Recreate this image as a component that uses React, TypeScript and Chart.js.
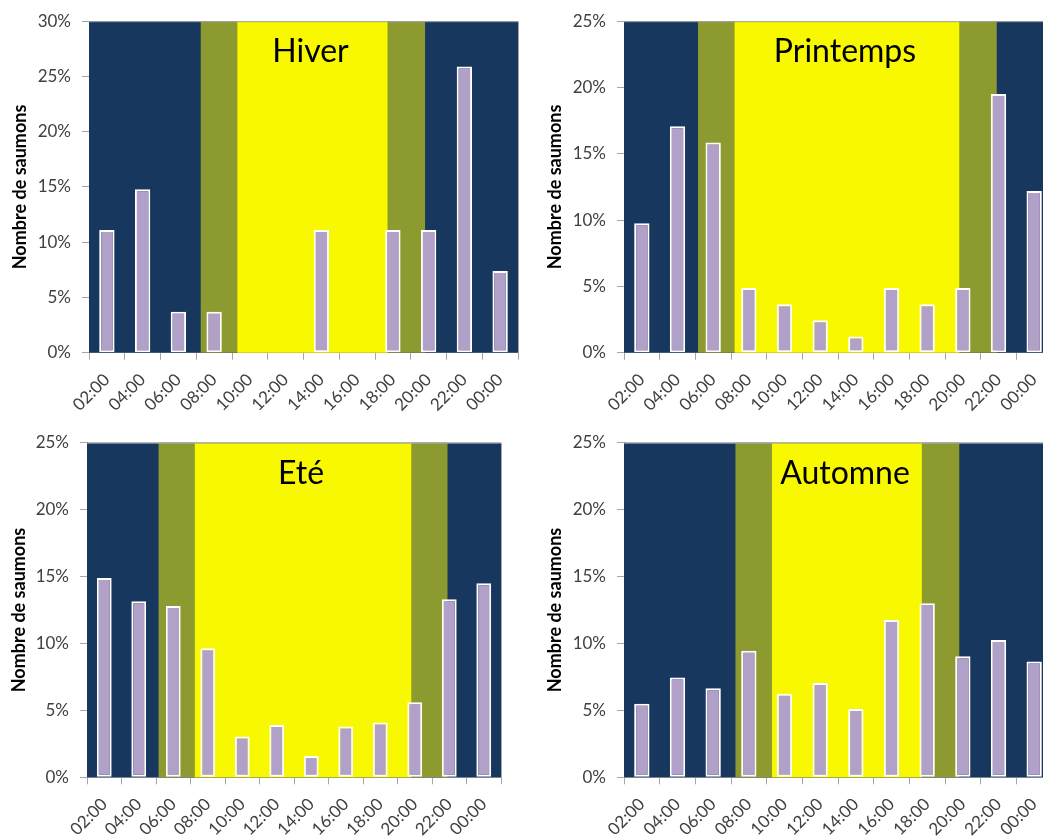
import React, { useEffect, useRef } from "react";
import { Chart, registerables } from "chart.js";

Chart.register(...registerables);

// ---------- data ----------
const hours: string[] = ["02:00", "04:00", "06:00", "08:00", "10:00", "12:00", "14:00", "16:00", "18:00", "20:00", "22:00", "00:00"];

const hiverValues: number[] = [11.1, 14.8, 3.7, 3.7, 0, 0, 11.1, 0, 11.1, 11.1, 25.9, 7.4];
const printempsValues: number[] = [9.76, 17.07, 15.85, 4.88, 3.66, 2.44, 1.22, 4.88, 3.66, 4.88, 19.51, 12.2];
const eteValues: number[] = [14.9, 13.15, 12.8, 9.65, 3.05, 3.9, 1.6, 3.8, 4.1, 5.6, 13.3, 14.5];
const automneValues: number[] = [5.5, 7.45, 6.65, 9.45, 6.25, 7.05, 5.1, 11.75, 13.0, 9.05, 10.25, 8.65];

// light phases in hours: [dawn start, sunrise, sunset, dusk end]
const hiverLight: number[] = [6.25, 8.3, 16.7, 18.8];
const printempsLight: number[] = [4.15, 6.2, 18.8, 20.9];
const eteLight: number[] = [4.15, 6.25, 18.8, 20.9];
const automneLight: number[] = [6.25, 8.3, 16.7, 18.8];

const yTicksPercent: number[] = [0, 5, 10, 15, 20, 25, 30];

const FONT = "Lato, 'Open Sans', sans-serif";
const NIGHT = "#17375E";
const TWILIGHT = "#8C9A30";
const DAY = "#F8F800";
const BAR = "#B1A0C7";
const AXIS = "#A6A6A6";
const TEXT = "#404040";

type PanelProps = {
  title: string;
  values: number[];
  light: number[];
  yMax: number;
  left: number;
  top: number;
  width: number;
  height: number;
  padTop: number;
  yWidth: number;
  xHeight: number;
  yTitlePad: number;
};

const Panel: React.FC<PanelProps> = (p) => {
  const ref = useRef<HTMLCanvasElement | null>(null);

  useEffect(() => {
    if (!ref.current) return;

    const bandPlugin = {
      id: "bands",
      beforeDatasetsDraw(chart: any) {
        const { ctx, chartArea } = chart;
        const xs = chart.scales.x;
        const hx = (h: number) => xs.getPixelForValue(h / 2 - 0.5);
        const { left, right, top, bottom } = chartArea;
        ctx.save();
        ctx.fillStyle = NIGHT;
        ctx.fillRect(left, top, right - left, bottom - top);
        const [d0, s0, s1, d1] = p.light;
        ctx.fillStyle = TWILIGHT;
        ctx.fillRect(hx(d0), top, hx(d1) - hx(d0), bottom - top);
        ctx.fillStyle = DAY;
        ctx.fillRect(hx(s0), top, hx(s1) - hx(s0), bottom - top);
        ctx.strokeStyle = AXIS;
        ctx.lineWidth = 1;
        ctx.beginPath();
        ctx.moveTo(left, top + 0.5);
        ctx.lineTo(right + 0.5, top + 0.5);
        ctx.lineTo(right + 0.5, bottom);
        ctx.stroke();
        ctx.restore();
      },
      afterDatasetsDraw(chart: any) {
        const { ctx, chartArea } = chart;
        ctx.save();
        ctx.fillStyle = "#000000";
        ctx.font = `32px ${FONT}`;
        ctx.textAlign = "center";
        ctx.textBaseline = "alphabetic";
        ctx.fillText(p.title, (chartArea.left + chartArea.right) / 2 + 7, chartArea.top + 41);
        ctx.restore();
      },
    };

    const chart = new Chart(ref.current, {
      type: "bar",
      data: {
        labels: hours,
        datasets: [
          {
            data: p.values,
            backgroundColor: BAR,
            borderColor: "#FFFFFF",
            borderWidth: 2,
            borderSkipped: false,
            barPercentage: 0.43,
            categoryPercentage: 1,
          },
        ],
      },
      options: {
        animation: false,
        responsive: false,
        layout: { padding: { top: p.padTop, right: 10, left: 0, bottom: 0 } },
        plugins: { legend: { display: false }, tooltip: { enabled: false } },
        scales: {
          x: {
            type: "category",
            offset: true,
            grid: { offset: true, drawOnChartArea: false, drawTicks: true, tickLength: 7, color: AXIS },
            border: { color: AXIS },
            ticks: {
              autoSkip: false,
              maxRotation: 45,
              minRotation: 45,
              padding: 10,
              color: TEXT,
              font: { family: FONT, size: 17 },
            },
            afterFit: (s: any) => {
              s.height = p.xHeight;
            },
          },
          y: {
            min: 0,
            max: p.yMax,
            afterBuildTicks: (s: any) => {
              s.ticks = yTicksPercent.filter((v) => v <= p.yMax).map((v) => ({ value: v }));
            },
            grid: { drawOnChartArea: false, drawTicks: true, tickLength: 7, color: AXIS },
            border: { color: AXIS },
            ticks: {
              padding: 11,
              color: TEXT,
              font: { family: FONT, size: 17 },
              callback: (v: any) => `${v}%`,
            },
            title: {
              display: true,
              text: "Nombre de saumons",
              color: "#000000",
              font: { family: FONT, size: 18, weight: "bold" },
              padding: { top: p.yTitlePad, bottom: 0 },
            },
            afterFit: (s: any) => {
              s.width = p.yWidth;
            },
          },
        },
      },
      plugins: [bandPlugin],
    });
    return () => chart.destroy();
  }, []);

  return (
    <div style={{ position: "absolute", left: p.left, top: p.top, width: p.width, height: p.height }}>
      <canvas ref={ref} width={p.width} height={p.height} style={{ width: p.width, height: p.height, display: "block" }} />
    </div>
  );
};

export default function App() {
  return (
    <div
      style={{
        position: "fixed",
        left: 0,
        top: 0,
        width: 1043,
        height: 836,
        overflow: "hidden",
        background: "#FFFFFF",
      }}
    >
      <Panel title="Hiver" values={hiverValues} light={hiverLight} yMax={30}
        left={0} top={0} width={528} height={420} padTop={19} yWidth={89} xHeight={67.3} yTitlePad={9.2} />
      <Panel title="Printemps" values={printempsValues} light={printempsLight} yMax={25}
        left={540} top={0} width={522} height={420} padTop={19} yWidth={84} xHeight={67.3} yTitlePad={4.2} />
      <Panel title="Eté" values={eteValues} light={eteLight} yMax={25}
        left={0} top={420} width={511} height={440} padTop={22.7} yWidth={87} xHeight={82.7} yTitlePad={8.2} />
      <Panel title="Automne" values={automneValues} light={automneLight} yMax={25}
        left={540} top={420} width={522} height={440} padTop={22.7} yWidth={84} xHeight={82.7} yTitlePad={4.7} />
    </div>
  );
}
